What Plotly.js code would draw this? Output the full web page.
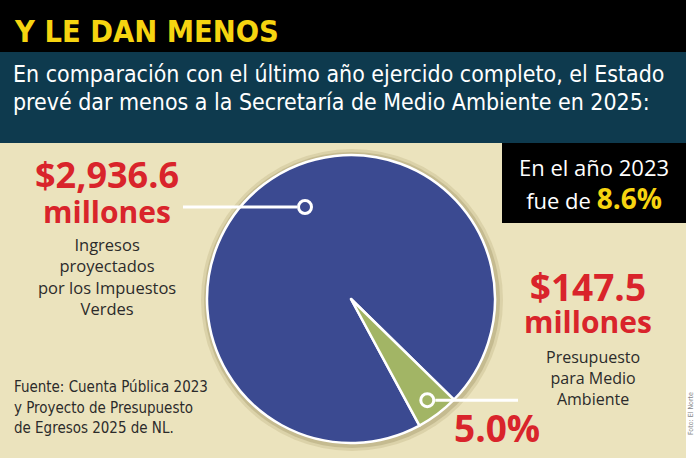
<!DOCTYPE html>
<html>
<head>
<meta charset="utf-8">
<script src="https://cdn.plot.ly/plotly-3.0.1.min.js"></script>
<style>html,body{margin:0;padding:0;background:#ebe3bd;}#chart{width:696px;height:458px;}</style>
</head>
<body>
<div id="chart"></div>
<script>
// ---- data ----
const categories = ["Ingresos proyectados por los Impuestos Verdes", "Presupuesto para Medio Ambiente"];
const values = [2936.6, 147.5];           // millones de pesos
const valueLabels = ["$2,936.6", "$147.5"];
const unitLabel = "millones";
const descLeft = ["Ingresos", "proyectados", "por los Impuestos", "Verdes"];
const descRight = ["Presupuesto", "para Medio", "Ambiente"];
const shareLabel = "5.0%";
const share2023Label = "8.6%";
const titleText = "Y LE DAN MENOS";
const subtitleLines = ["En comparación con el último año ejercido completo, el Estado",
                       "prevé dar menos a la Secretaría de Medio Ambiente en 2025:"];
const sourceLines = ["Fuente: Cuenta Pública 2023", "y Proyecto de Presupuesto", "de Egresos 2025 de NL."];

// ---- styling ----
const W = 696, H = 458;
const BLUE = "#3b4a91", GREEN = "#a2b565", RED = "#d9242b", YELLOW = "#f6d410";
const CREAM = "#ebe3bd", TEAL = "#0e3a4e", DARK = "#2b2b2b";
const COND = "DejaVu Sans Condensed";
const SANS = "Open Sans";
const px = x => x / W, py = y => 1 - y / H;

// measure text to fit a target width
const cv = document.createElement('canvas').getContext('2d');
function fit(text, family, weight, width) {
  cv.font = weight + ' 100px "' + family + '"';
  return 100 * width / cv.measureText(text).width;
}

// pie geometry (pixels)
const CX = 351, CY = 299, R = 144;
const total = values.reduce((a, b) => a + b, 0);
const startDeg = 151.6; // clockwise from 12 o'clock

function polar(angleFromTopDeg, rr) {
  const a = angleFromTopDeg * Math.PI / 180;
  return [CX + rr * Math.sin(a), CY - rr * Math.cos(a)];
}
const greenStart = startDeg + 360 * values[0] / total;
const greenMid = greenStart + 180 * values[1] / total;
const gDot = polar(greenMid, 0.88 * R);
const bDot = [305, 207];

function rect(x0, y0, x1, y1, color, layer) {
  return {type: 'rect', xref: 'paper', yref: 'paper', x0: px(x0), x1: px(x1), y0: py(y0), y1: py(y1),
          fillcolor: color, line: {width: 0}, layer: layer || 'below'};
}
function circ(cx, cy, r, fill, lineColor, lw, layer) {
  return {type: 'circle', xref: 'paper', yref: 'paper', x0: px(cx - r), x1: px(cx + r), y0: py(cy + r), y1: py(cy - r),
          fillcolor: fill, line: {color: lineColor || fill, width: lw || 0}, layer: layer || 'above'};
}
function hline(x0, x1, y) {
  return {type: 'line', xref: 'paper', yref: 'paper', x0: px(x0), x1: px(x1), y0: py(y), y1: py(y),
          line: {color: 'white', width: 3}, layer: 'above'};
}
const shapes = [
  rect(0, 0, W, 52, '#000000'),
  rect(0, 52, 686, 143, TEAL),
  rect(686, 0, W, H, '#ffffff'),
  rect(502, 143, 686, 223, '#000000'),
  circ(CX + 1, CY + 1, R + 7, 'rgba(150,135,80,0.18)', null, 0, 'below'),
  circ(CX + 1, CY + 1, R + 4, 'rgba(130,118,70,0.25)', null, 0, 'below'),
  hline(183, bDot[0] - 8, bDot[1]),
  circ(bDot[0], bDot[1], 6.5, BLUE, 'white', 3),
  hline(gDot[0] + 8, 518, gDot[1]),
  circ(gDot[0], gDot[1], 6.5, GREEN, 'white', 3)
];

const KB = {}; KB[SANS] = 0.388; KB[COND] = 0.346;
const ASC = {}; ASC[SANS] = 1.069; ASC[COND] = 0.928;
// single line, positioned by baseline
function txt(text, x, baseline, size, color, family, xanchor, extra) {
  return Object.assign({xref: 'paper', yref: 'paper', x: px(x), y: py(baseline - KB[family] * size), xanchor: xanchor || 'center',
    yanchor: 'middle', text: text, showarrow: false, font: {size: size, color: color, family: family}, borderpad: 0}, extra || {});
}
// multi line, positioned by first baseline (firstSize = biggest glyph size on first line)
function mtxt(text, x, baseline, firstSize, baseSize, color, family) {
  return {xref: 'paper', yref: 'paper', x: px(x), y: py(baseline - ASC[family] * firstSize), xanchor: 'center', yanchor: 'top',
    align: 'center', text: text, showarrow: false, font: {size: baseSize, color: color, family: family}, borderpad: 0};
}
const span = (t, s, extra) => '<span style="font-size:' + s + 'px' + (extra || '') + '">' + t + '</span>';

const titleSize = fit(titleText, COND, 'bold', 264);
const subSize = fit(subtitleLines[0], COND, 'normal', 652);
const srcSize = fit(sourceLines[0], COND, 'normal', 194);

const annotations = [
  txt('<b>' + titleText + '</b>', 13, 42, titleSize, YELLOW, COND, 'left'),
  txt(subtitleLines[0], 12, 82, subSize, '#ffffff', COND, 'left'),
  txt(subtitleLines[1], 12, 110, subSize, '#ffffff', COND, 'left'),
  mtxt(span('En el año 2023', 22) + '<br>' + span('fue de ', 22) + span('<b>' + share2023Label + '</b>', 28, ';color:' + YELLOW),
       594, 175, 22, 25.4, '#ffffff', SANS),
  mtxt('<b>' + span(valueLabels[0], 36) + '</b><br><b>' + span(unitLabel, 30) + '</b>', 107, 187, 36, 27, RED, SANS),
  mtxt(descLeft.join('<br>'), 107, 250, 16.5, 16.5, DARK, SANS),
  txt(sourceLines[0], 13, 392, srcSize, DARK, COND, 'left'),
  txt(sourceLines[1], 13, 413, srcSize, DARK, COND, 'left'),
  txt(sourceLines[2], 13, 433, srcSize, DARK, COND, 'left'),
  mtxt('<b>' + span(valueLabels[1], 37) + '</b><br><b>' + span(unitLabel, 30) + '</b>', 588, 300, 37, 24.6, RED, SANS),
  mtxt(descRight.join('<br>'), 593, 362, 16, 16, DARK, SANS),
  txt('<b>' + shareLabel + '</b>', 497, 442, 37, RED, SANS),
  {xref: 'paper', yref: 'paper', x: px(691), y: py(414), xanchor: 'center', yanchor: 'middle', textangle: -90,
   text: 'Foto: El Norte', showarrow: false, font: {size: 7, color: '#888888', family: COND}, borderpad: 0}
];

const data = [{
  type: 'pie', labels: categories, values: values, sort: false, direction: 'clockwise', rotation: startDeg,
  marker: {colors: [BLUE, GREEN], line: {color: '#ffffff', width: 2.5}},
  textinfo: 'none', hoverinfo: 'none', showlegend: false,
  domain: {x: [px(CX - R), px(CX + R)], y: [py(CY + R), py(CY - R)]}
}];

const layout = {
  width: W, height: H, margin: {l: 0, r: 0, t: 0, b: 0},
  paper_bgcolor: CREAM, plot_bgcolor: CREAM, showlegend: false,
  shapes: shapes, annotations: annotations
};
Plotly.newPlot('chart', data, layout, {displayModeBar: false, staticPlot: true});
</script>
</body>
</html>
